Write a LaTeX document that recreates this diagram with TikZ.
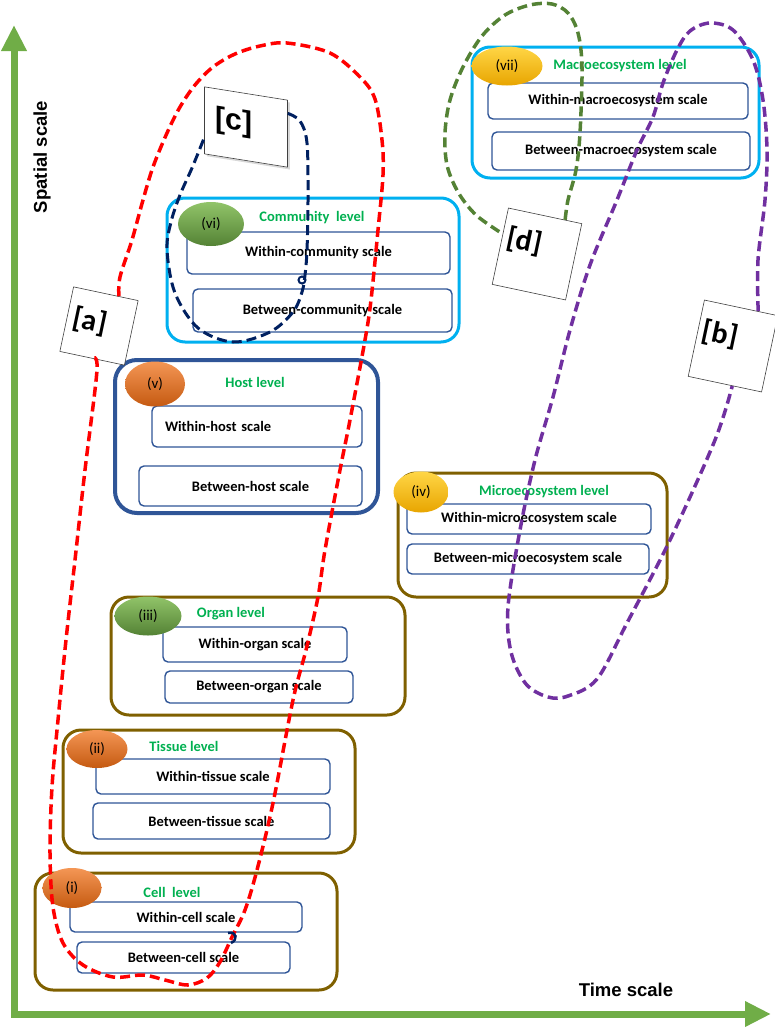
\documentclass[tikz,border=0pt]{standalone}
\usepackage{fontspec}
\setmainfont{Carlito}
\newfontfamily\axisfont{Liberation Sans}
\usetikzlibrary{arrows.meta,shapes.geometric,calc,shadows}

\definecolor{axisgreen}{RGB}{112,173,71}
\definecolor{lvlbrown}{RGB}{127,96,0}
\definecolor{lvlblue}{RGB}{0,176,240}
\definecolor{hostblue}{RGB}{47,85,151}
\definecolor{scaleblue}{RGB}{47,85,151}
\definecolor{titlegreen}{RGB}{0,176,80}
\definecolor{trailred}{RGB}{255,0,0}
\definecolor{trailnavy}{RGB}{0,32,96}
\definecolor{trailgreen}{RGB}{84,130,53}
\definecolor{trailviolet}{RGB}{112,48,160}

\begin{document}
\begin{tikzpicture}[x=1pt,y=-1pt,
  every node/.style={font=\fontsize{15}{17}\selectfont},
  axis/.style={line width=7pt,axisgreen,line cap=rect,-{Triangle[length=26pt,width=24pt]}},
  axislabel/.style={font=\axisfont\bfseries\fontsize{18.5}{20}\selectfont},
  levelbox/.style={line width=3pt,rounded corners=18pt},
  scalebox/.style={draw=scaleblue,line width=1.4pt,rounded corners=5pt,fill=white,inner sep=0pt,
    font=\bfseries\fontsize{14.5}{16}\selectfont},
  title/.style={text=titlegreen,font=\bfseries\fontsize{14.5}{16}\selectfont},
  tag/.style={ellipse,inner sep=0pt},
  orangetag/.style={tag,top color={rgb,255:red,244;green,150;blue,85},bottom color={rgb,255:red,197;green,90;blue,17}},
  greentag/.style={tag,top color={rgb,255:red,145;green,196;blue,105},bottom color={rgb,255:red,84;green,130;blue,53}},
  yellowtag/.style={tag,top color={rgb,255:red,255;green,214;blue,70},bottom color={rgb,255:red,232;green,165;blue,0}},
  labelbox/.style={draw=black!75,fill=white,line width=0.6pt,inner sep=0pt,font=\bfseries\fontsize{30}{30}\selectfont},
  trail/.style={line width=3.5pt,dash pattern=on 10pt off 5pt}]
\useasboundingbox (0,0) rectangle (775,1028);

\coordinate (origin) at (14,1014);
\coordinate (ytip) at (14,25);
\coordinate (xtip) at (771,1014);
\draw[axis] (origin) -- (ytip);
\draw[axis] (origin) -- (xtip);
\node[axislabel,rotate=90] (spatial) at (42,157) {Spatial scale};
\node[axislabel] (time) at (626,990) {Time scale};

\draw[levelbox,lvlbrown] (35,873) rectangle (337,990);
\node[scalebox,minimum width=232,minimum height=30] (wcell) at (186,917) {Within-cell scale};
\node[scalebox,minimum width=213,minimum height=31] (bcell) at (183.5,957.5) {Between-cell scale};
\node[orangetag,minimum width=59,minimum height=40] (tagi) at (72,888) {(i)};
\node[title] (cell) at (172,892) {Cell~ level};

\draw[levelbox,lvlbrown] (63,730) rectangle (355,853);
\node[scalebox,minimum width=234,minimum height=35] (wtissue) at (213,776.5) {Within-tissue scale};
\node[scalebox,minimum width=237,minimum height=36] (btissue) at (211.5,821) {Between-tissue scale};
\node[orangetag,minimum width=61,minimum height=38] (tagii) at (97,749) {(ii)};
\node[title] (tissue) at (184,746) {Tissue level};

\draw[levelbox,lvlbrown] (111,597) rectangle (405,715);
\node[scalebox,minimum width=184,minimum height=35] (worgan) at (255,644.5) {Within-organ scale};
\node[scalebox,minimum width=188,minimum height=32] (borgan) at (259,687) {Between-organ scale};
\node[greentag,minimum width=67,minimum height=39] (tagiii) at (148,616) {(iii)};
\node[title] (organ) at (231,614) {Organ level};

\draw[levelbox,hostblue,line width=4pt,rounded corners=22pt] (115,360) rectangle (378,513);
\node[scalebox,minimum width=210,minimum height=41,inner xsep=13pt,text width=184pt,align=left] (whost) at (257,426.5) {Within-host scale};
\node[scalebox,minimum width=223,minimum height=40] (bhost) at (250.5,486) {Between-host scale};
\node[orangetag,minimum width=60,minimum height=45] (tagv) at (155,384) {(v)};
\node[title] (host) at (255,382) {Host level};

\draw[levelbox,lvlblue] (167,198) rectangle (459,342);
\node[scalebox,minimum width=263,minimum height=42] (wcomm) at (318.5,253) {Within-community scale};
\node[scalebox,minimum width=259,minimum height=43] (bcomm) at (322.5,310.5) {Between-community scale};
\node[greentag,minimum width=66,minimum height=44] (tagvi) at (211,224) {(vi)};
\node[title] (comm) at (312,218) {Community~ level};

\draw[levelbox,lvlbrown] (398,473) rectangle (667,597);
\node[scalebox,minimum width=244,minimum height=30] (wmicro) at (529,519) {Within-microecosystem scale};
\node[scalebox,minimum width=242,minimum height=30] (bmicro) at (528,559) {Between-microecosystem scale};
\node[yellowtag,minimum width=55,minimum height=41] (tagiv) at (421,492) {(iv)};
\node[title] (micro) at (544,492) {Microecosystem level};

\draw[levelbox,lvlblue] (472,47) rectangle (759,178);
\node[scalebox,minimum width=260,minimum height=36] (wmacro) at (618,101) {Within-macroecosystem scale};
\node[scalebox,minimum width=258,minimum height=38] (bmacro) at (621,151) {Between-macroecosystem scale};
\node[yellowtag,minimum width=71,minimum height=39] (tagvii) at (507,66) {(vii)};
\node[title] (macro) at (620,66) {Macroecosystem level};

\node[labelbox,rotate=-12,minimum width=66,minimum height=66] (laba) at (99,326) {\raisebox{10pt}{[a]}\hspace*{20pt}};
\node[labelbox,rotate=-12,minimum width=75,minimum height=78] (labb) at (733,346) {\raisebox{22pt}{[b]}\hspace*{30pt}};
\node[labelbox,yslant=-0.16,minimum width=83,minimum height=67,drop shadow={opacity=0.3},
  font=\axisfont\bfseries\fontsize{30}{30}\selectfont] (labc) at (246,127) {\raisebox{12pt}{[c]}\hspace*{24pt}};
\node[labelbox,rotate=-12,minimum width=75,minimum height=78] (labd) at (537,254) {\raisebox{24pt}{[d]}\hspace*{30pt}};

\coordinate (redin) at ($(laba.north west)!0.7!(laba.north east)$);
\coordinate (navyin) at ($(labc.north east)!0.2!(labc.south east)$);
\coordinate (navyout) at ($(labc.north west)!0.76!(labc.south west)$);
\coordinate (greenin) at ($(labd.north west)!0.77!(labd.north east)$);
\coordinate (greenout) at ($(labd.north west)!0.34!(labd.south west)$);
\coordinate (violetin) at ($(labb.north west)!0.73!(labb.north east)$);
\coordinate (violetout) at ($(labb.south west)!0.6!(labb.south east)$);

\draw[trail,trailred] plot[smooth,tension=0.55] coordinates {(redin) (120,277) (132,240) (143,200) (153,167) (167,133) (180,107) (195,85) (213,67) (235,54) (260,46) (287,43) (330,53) (360,77) (375,99) (382,140) (383,175) (378,230) (371,300) (365,340) (350,420) (340,470) (325,550) (318,597) (306,650) (293,700) (273,803) (257,870) (245,910) (232,937) (220,962) (207,978) (188,985) (165,980) (143,975) (113,977) (83,965) (63,943) (53,907) (50,853) (52,787) (58,720) (66,640) (75,560) (85,470) (97,370) (laba.south)};

\draw[trail,trailnavy,line width=3pt] plot[smooth,tension=0.55] coordinates {(navyin) (300,121) (307,143) (308,200) (307,250) (305,275) (302,292) (293,312) (270,332) (233,342) (198,328) (175,293) (167,250) (171,222) (180,195) (192,168) (navyout)};
\draw[trailnavy,line width=2pt] (302,280) circle (3.5);
\draw[trailnavy,line width=2.5pt] (228,933) .. controls (237,931) and (238,940) .. (231,943);

\draw[trail,trailgreen] plot[smooth,tension=0.55] coordinates {(greenin) (568,200) (576,170) (580,133) (582,67) (578,33) (568,13) (552,4) (530,5) (505,15) (482,36) (463,67) (450,100) (445,133) (447,165) (458,192) (476,215) (greenout)};

\draw[trail,trailviolet] plot[smooth,tension=0.55] coordinates {(violetin) (758,260) (765,200) (767,150) (763,100) (753,60) (733,30) (710,23) (690,31) (677,50) (663,83) (653,117) (637,150) (617,200) (590,265) (570,330) (553,397) (535,460) (520,530) (508,607) (511,652) (526,684) (548,697) (568,696) (597,679) (627,623) (670,540) (715,440) (violetout)};
\end{tikzpicture}
\end{document}
